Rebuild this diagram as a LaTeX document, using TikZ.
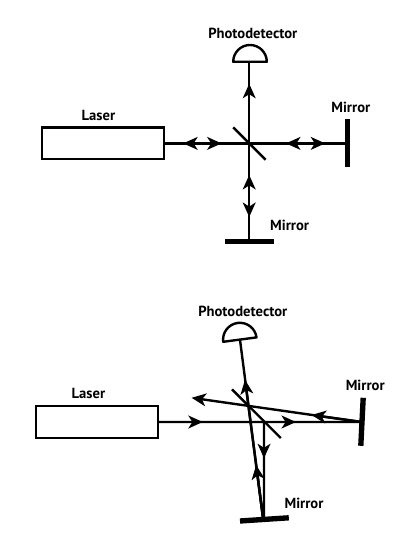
\documentclass[tikz,border=0pt]{standalone}
\usepackage{fontspec}
\setmainfont{PT Sans}
\usetikzlibrary{calc,arrows.meta}
\tikzset{
	beam/.style={line width=1.7pt},
	tip/.style={beam,-{Stealth[length=3.6mm,width=3.2mm,inset=1mm]}},
	lasertube/.style={draw,line width=1.7pt,minimum width=3.05cm,minimum height=.79cm,inner sep=0pt},
	mirror/.style={line width=3.8pt},
	splitter/.style={line width=1.7pt},
	detector/.style={line width=1.7pt,line join=round},
	tag/.style={font=\bfseries\fontsize{10.4}{12}\selectfont,inner sep=0pt}
}
\begin{document}
\begin{tikzpicture}
	\useasboundingbox(0,0)rectangle(10.375,13.925);
	% aligned interferometer
	\node[lasertube](laserA)at(2.575,10.34){};
	\node[tag](laserAtag)at(2.46,11.05){Laser};
	\node[tag](detAtag)at(6.32,13.09){Photodetector};
	\node[tag](mirRAtag)at(8.77,11.25){Mirror};
	\node[tag](mirBAtag)at(7.24,8.30){Mirror};
	\coordinate(splitA)at(6.23,10.34);
	\coordinate(mirRA)at(8.69,10.34);
	\coordinate(mirBA)at(6.23,7.88);
	\coordinate(detA)at(6.23,12.38);
	\draw[splitter](5.83,10.74)--(6.64,9.93);
	\draw[mirror](8.69,10.94)--(8.69,9.74);
	\draw[mirror](5.63,7.88)--(6.85,7.88);
	\draw[detector](5.83,12.38)arc(180:0:.42)--cycle;
	\draw[beam](laserA.east)--(mirRA) (mirBA)--(detA);
	\coordinate(tipA1)at(4.58,10.34);
	\coordinate(tipA2)at(5.54,10.34);
	\coordinate(tipA3)at(7.15,10.34);
	\coordinate(tipA4)at(8.13,10.34);
	\coordinate(tipA5)at(6.23,11.83);
	\coordinate(tipA6)at(6.23,9.55);
	\coordinate(tipA7)at(6.23,8.50);
	\draw[tip](splitA)--(tipA1);
	\draw[tip](laserA.east)--(tipA2);
	\draw[tip](mirRA)--(tipA3);
	\draw[tip](splitA)--(tipA4);
	\draw[tip](splitA)--(tipA5);
	\draw[tip](mirBA)--(tipA6);
	\draw[tip](splitA)--(tipA7);
	% tilted mirrors
	\node[lasertube](laserB)at(2.42,3.375){};
	\node[tag](laserBtag)at(2.21,4.09){Laser};
	\node[tag](detBtag)at(6.07,6.13){Photodetector};
	\node[tag](mirRBtag)at(9.13,4.30){Mirror};
	\node[tag](mirBBtag)at(7.60,1.34){Mirror};
	\coordinate(mirRB)at(9.04,3.375);
	\coordinate(mirBB)at(6.58,.94);
	\coordinate(detB)at(6.00,5.43);
	\coordinate(hitB)at(6.60,3.375);
	\coordinate(footB)at(6.60,.94);
	\coordinate(endB)at(4.79,3.98);
	\draw[splitter](5.80,4.19)--(7.02,2.975);
	\draw[mirror](9.08,3.98)--(9.02,2.78);
	\draw[mirror](6.00,.90)--(7.22,.98);
	\draw[detector](5.58,5.38)arc(187.5:7.5:.42)--cycle;
	\draw[beam](laserB.east)--(mirRB) (mirBB)--(detB) (hitB)--(footB);
	\coordinate(tipB1)at(5.07,3.375);
	\coordinate(tipB2)at(7.40,3.375);
	\coordinate(tipB3)at(7.79,3.55);
	\coordinate(tipB4)at(6.125,4.43);
	\coordinate(tipB5)at(6.405,2.30);
	\coordinate(tipB6)at(6.60,2.47);
	\draw[tip](laserB.east)--(tipB1);
	\draw[tip](laserB.east)--(tipB2);
	\draw[tip](mirRB)--(tipB3);
	\draw[tip](mirRB)--(endB);
	\draw[tip](mirBB)--(tipB4);
	\draw[tip](mirBB)--(tipB5);
	\draw[tip](hitB)--(tipB6);
\end{tikzpicture}
\end{document}
